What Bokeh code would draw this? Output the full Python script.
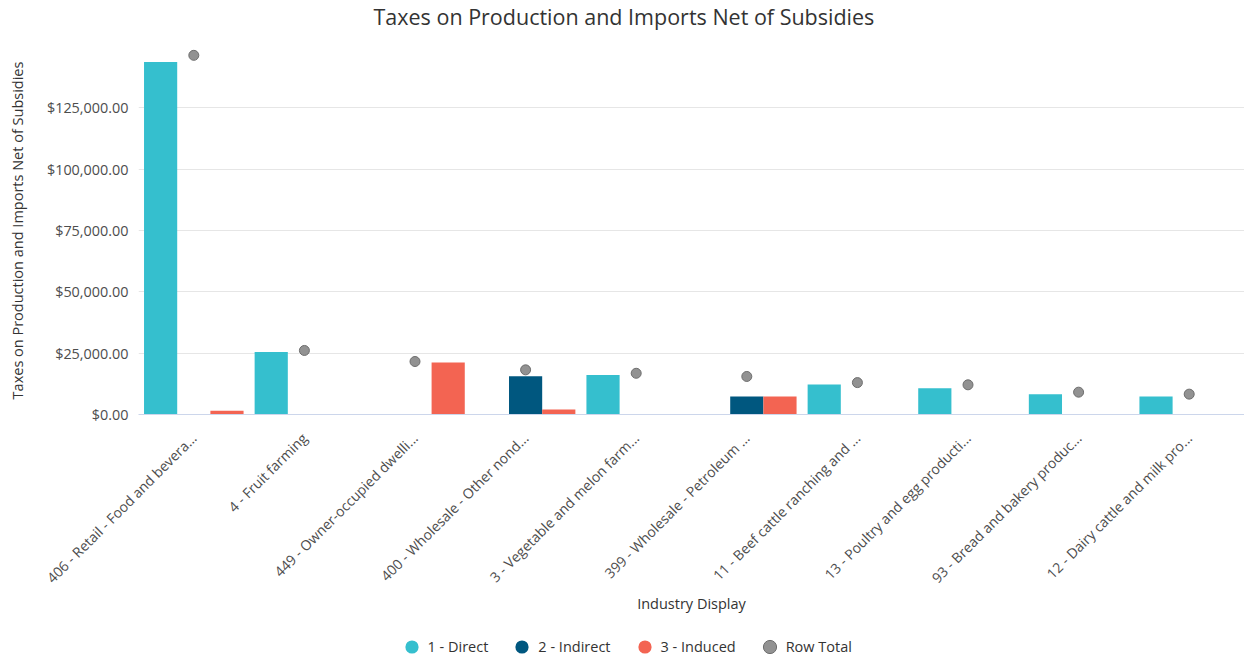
import math
from bokeh.plotting import figure
from bokeh.models import (FactorRange, Range1d, FixedTicker, NumeralTickFormatter,
                          Legend, LegendItem, ColumnDataSource, Title)
from bokeh.transform import dodge
from bokeh.embed import file_html
from bokeh.resources import INLINE

categories = [
    "406 - Retail - Food and bevera...",
    "4 - Fruit farming",
    "449 - Owner-occupied dwelli...",
    "400 - Wholesale - Other nond...",
    "3 - Vegetable and melon farm...",
    "399 - Wholesale - Petroleum ...",
    "11 - Beef cattle ranching and ...",
    "13 - Poultry and egg producti...",
    "93 - Bread and bakery produc...",
    "12 - Dairy cattle and milk pro...",
]
direct = [143700, 25500, 0, 0, 16100, 0, 12200, 10700, 8300, 7300]
indirect = [0, 0, 0, 15600, 0, 7300, 0, 0, 0, 0]
induced = [1500, 0, 21200, 2000, 0, 7300, 0, 0, 0, 0]
row_total = [146400, 26100, 21600, 18200, 16800, 15500, 13000, 12100, 9100, 8300]
y_ticks = [0, 25000, 50000, 75000, 100000, 125000]

FONT = "Open Sans"
C_DIRECT = "#35bfce"
C_INDIRECT = "#00577f"
C_INDUCED = "#f36452"
C_TOTAL = "#929292"

source = ColumnDataSource(dict(cat=categories, direct=direct, indirect=indirect,
                               induced=induced, total=row_total,
                               none=[float("nan")] * len(categories)))

p = figure(frame_width=1106, frame_height=368,
           x_range=FactorRange(*categories, range_padding=0),
           y_range=Range1d(0, 150000),
           output_backend="svg", toolbar_location=None,
           min_border_left=138, min_border_right=0, min_border_top=46,
           min_border_bottom=0,
           title="Taxes on Production and Imports Net of Subsidies")

p.title.text_font = FONT
p.title.text_font_size = "21.5px"
p.title.text_font_style = "normal"
p.title.text_color = "#333333"
p.title.align = "left"
p.title.offset = 235
p.title.standoff = 0
p.title.vertical_align = "top"

# spacer between title and plot area
p.add_layout(Title(text=" ", text_font_size="1px", standoff=11), "above")

w = 0.30
r1 = p.vbar(x=dodge("cat", -w, range=p.x_range), top="direct", width=w, source=source,
            fill_color=C_DIRECT, line_color=None)
r2 = p.vbar(x=dodge("cat", 0, range=p.x_range), top="indirect", width=w, source=source,
            fill_color=C_INDIRECT, line_color=None)
r3 = p.vbar(x=dodge("cat", w, range=p.x_range), top="induced", width=w, source=source,
            fill_color=C_INDUCED, line_color=None)
r4 = p.scatter(x="cat", y="total", source=source, size=10, marker="circle",
               fill_color=C_TOTAL, line_color="#6e6e6e", line_width=1)

# legend swatches (circle markers as in the reference legend); no visible points
l1 = p.scatter(x="cat", y="none", source=source, marker="circle", fill_color=C_DIRECT, line_color=None)
l2 = p.scatter(x="cat", y="none", source=source, marker="circle", fill_color=C_INDIRECT, line_color=None)
l3 = p.scatter(x="cat", y="none", source=source, marker="circle", fill_color=C_INDUCED, line_color=None)

xa = p.xaxis[0]
xa.axis_line_color = "#ccd6eb"
xa.major_tick_line_color = None
xa.minor_tick_line_color = None
xa.major_tick_out = 0
xa.major_label_standoff = 21
xa.major_label_orientation = math.pi / 4
xa.major_label_text_font = FONT
xa.major_label_text_font_size = "14px"
xa.major_label_text_color = "#4d4d4d"
xa.axis_label = "Industry Display"
xa.axis_label_text_font = FONT
xa.axis_label_text_font_size = "14.5px"
xa.axis_label_text_font_style = "normal"
xa.axis_label_text_color = "#333333"
xa.axis_label_standoff = -3

# legend lives in the right side panel (spans the plot area's height) and is
# offset back to the bottom centre of the page
legend = Legend(items=[LegendItem(label="1 - Direct", renderers=[l1], index=0),
                       LegendItem(label="2 - Indirect", renderers=[l2], index=0),
                       LegendItem(label="3 - Induced", renderers=[l3], index=0),
                       LegendItem(label="Row Total", renderers=[r4], index=0)],
                orientation="horizontal", location=(-849.5, -248.5))
legend.glyph_width = 33
legend.glyph_height = 33
legend.label_standoff = 0
legend.spacing = 17
legend.padding = 0
legend.margin = 0
legend.border_line_color = None
legend.background_fill_alpha = 0
legend.label_text_font = FONT
legend.label_text_font_size = "14.5px"
legend.label_text_color = "#333333"
p.add_layout(legend, "right")

p.outline_line_color = None
p.xgrid.grid_line_color = None
p.ygrid.grid_line_color = "#e6e6e6"
p.ygrid.ticker = FixedTicker(ticks=y_ticks)

ya = p.yaxis[0]
ya.ticker = FixedTicker(ticks=y_ticks)
ya.formatter = NumeralTickFormatter(format="$0,0.00")
ya.axis_line_color = None
ya.major_tick_line_color = None
ya.minor_tick_line_color = None
ya.major_tick_out = 0
ya.major_label_standoff = 10
ya.major_label_text_font = FONT
ya.major_label_text_font_size = "14.4px"
ya.major_label_text_color = "#4d4d4d"
ya.axis_label = "Taxes on Production and Imports Net of Subsidies"
ya.axis_label_text_font = FONT
ya.axis_label_text_font_size = "14.5px"
ya.axis_label_text_font_style = "normal"
ya.axis_label_text_color = "#333333"
ya.axis_label_standoff = 17

open("out.html", "w").write(file_html(p, INLINE))
